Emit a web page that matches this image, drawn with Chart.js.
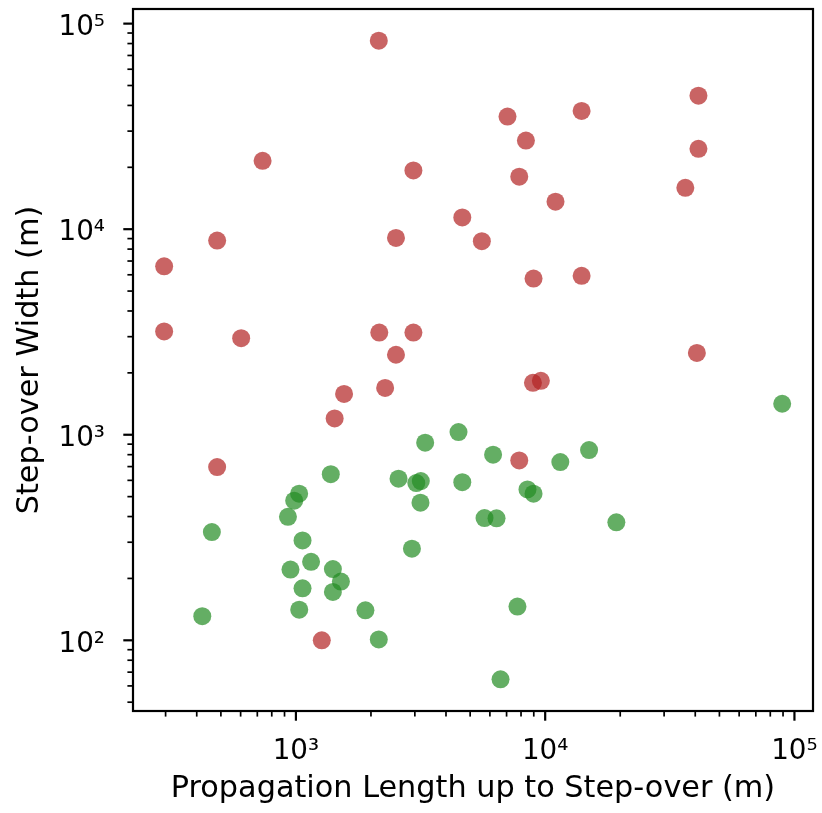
<!DOCTYPE html>
<html>
<head>
<meta charset="utf-8">
<script src="https://cdn.jsdelivr.net/npm/chart.js@4/dist/chart.umd.min.js"></script>
<style>
  html, body { margin: 0; padding: 0; background: #fff; }
  #wrap { position: absolute; left: 0; top: 0; width: 822px; height: 813px; }
</style>
</head>
<body>
<div id="wrap"><canvas id="scatterChart"></canvas></div>
<script>
// Puntos rojos (Propagation Length, Step-over Width)
const redX = [2150, 735, 2960, 4650, 483, 2520, 5570, 296, 296, 603, 2160, 2960, 2520,
    41200, 14000, 7060, 8370, 41200, 7870, 36500, 11000, 8980, 14000, 40600,
    2280, 1560, 1430, 483, 1270, 8930, 9610, 7870];
const redY = [82600, 21500, 19300, 11400, 8800, 9070, 8740, 6600, 3180, 2950, 3140, 3140, 2450,
    44600, 37600, 35300, 27000, 24600, 18000, 15900, 13600, 5750, 5930, 2500,
    1690, 1580, 1200, 696, 100, 1790, 1830, 750];

// Puntos verdes
const greenX = [4490, 3300, 1380, 2580, 3040, 3170, 4650, 1030, 984, 3160, 929, 1063, 460,
    1150, 951, 1407, 1515, 1063, 1407, 2920, 1031, 1900, 421, 2150, 89300, 6180,
    11500, 15000, 8490, 8980, 5710, 6380, 19300, 7740, 6620];
const greenY = [1030, 915, 643, 611, 582, 595, 588, 517, 478, 467, 399, 306, 336,
    241, 221, 222, 193, 179, 172, 279, 141, 140, 131, 101, 1415, 800,
    736, 842, 542, 517, 393, 392, 375, 146, 64.6];

// Rangos de los ejes y etiquetas
const xRange = [222, 118700];
const yRange = [45.3, 117800];
const xTitle = 'Propagation Length up to Step-over (m)';
const yTitle = 'Step-over Width (m)';

const SUP = '⁰¹²³⁴⁵⁶⁷⁸⁹';
const FONT = { family: 'DejaVu Sans', size: 27.8 };
const TITLE_FONT = { family: 'DejaVu Sans', size: 30.3 };

function isDecade(v) {
    const l = Math.log10(v);
    return Math.abs(l - Math.round(l)) < 1e-9;
}

function decadeLabel(v) {
    if (!isDecade(v)) return '';
    const e = String(Math.round(Math.log10(v)));
    return '10' + e.split('').map(d => SUP[+d]).join('');
}

function logTicks(scale) {
    const out = [];
    const e0 = Math.floor(Math.log10(scale.min));
    const e1 = Math.ceil(Math.log10(scale.max));
    for (let e = e0; e <= e1; e++) {
        for (let k = 1; k < 10; k++) {
            const v = k * Math.pow(10, e);
            if (v >= scale.min && v <= scale.max) out.push({ value: v, major: k === 1 });
        }
    }
    scale.ticks = out;
}

function toPoints(xs, ys) {
    return xs.map((x, i) => ({ x: x, y: ys[i] }));
}

// marco negro y marcas de los ejes
const frameAndTicks = {
    id: 'frameAndTicks',
    afterDraw(chart) {
        const ctx = chart.ctx;
        const a = chart.chartArea;
        const sx = chart.scales.x;
        const sy = chart.scales.y;
        ctx.save();
        ctx.strokeStyle = '#000';
        sx.ticks.forEach(t => {
            const major = isDecade(t.value);
            const px = sx.getPixelForValue(t.value);
            ctx.lineWidth = major ? 2.2 : 1.7;
            ctx.beginPath();
            ctx.moveTo(px, a.bottom);
            ctx.lineTo(px, a.bottom + (major ? 9.7 : 5.6));
            ctx.stroke();
        });
        sy.ticks.forEach(t => {
            const major = isDecade(t.value);
            const py = sy.getPixelForValue(t.value);
            ctx.lineWidth = major ? 2.2 : 1.7;
            ctx.beginPath();
            ctx.moveTo(a.left, py);
            ctx.lineTo(a.left - (major ? 9.7 : 5.6), py);
            ctx.stroke();
        });
        ctx.lineWidth = 2.2;
        ctx.strokeRect(a.left, a.top, a.right - a.left, a.bottom - a.top);
        ctx.restore();
    }
};

document.addEventListener('DOMContentLoaded', function () {
    const ctx = document.getElementById('scatterChart').getContext('2d');

    const myChart = new Chart(ctx, {
        type: 'scatter',
        data: {
            datasets: [{
                label: 'red',
                data: toPoints(redX, redY),
                backgroundColor: 'rgba(178, 34, 34, 0.7)',
                borderWidth: 0,
                pointRadius: 9,
                pointHoverRadius: 9
            }, {
                label: 'green',
                data: toPoints(greenX, greenY),
                backgroundColor: 'rgba(34, 139, 34, 0.7)',
                borderWidth: 0,
                pointRadius: 9,
                pointHoverRadius: 9
            }]
        },
        options: {
            responsive: true,
            maintainAspectRatio: false,
            animation: false,
            layout: { padding: { top: 8, right: 9, left: 0, bottom: 0 } },
            plugins: {
                legend: { display: false },
                tooltip: { enabled: false }
            },
            scales: {
                x: {
                    type: 'logarithmic',
                    min: xRange[0],
                    max: xRange[1],
                    bounds: 'data',
                    grid: { display: false },
                    border: { display: false },
                    afterBuildTicks: logTicks,
                    afterFit: function (scale) {
                        scale.height = 102;
                        scale.paddingLeft = 0;
                        scale.paddingRight = 0;
                    },
                    ticks: {
                        autoSkip: false,
                        maxRotation: 0,
                        padding: 16,
                        color: '#000',
                        font: FONT,
                        callback: decadeLabel
                    },
                    title: {
                        display: true,
                        text: xTitle,
                        color: '#000',
                        font: TITLE_FONT,
                        padding: { top: 0, bottom: 6 }
                    }
                },
                y: {
                    type: 'logarithmic',
                    min: yRange[0],
                    max: yRange[1],
                    bounds: 'data',
                    grid: { display: false },
                    border: { display: false },
                    afterBuildTicks: logTicks,
                    afterFit: function (scale) {
                        scale.width = 133;
                        scale.paddingTop = 0;
                        scale.paddingBottom = 0;
                    },
                    ticks: {
                        autoSkip: false,
                        padding: 20,
                        labelOffset: 4,
                        color: '#000',
                        font: FONT,
                        callback: decadeLabel
                    },
                    title: {
                        display: true,
                        text: yTitle,
                        color: '#000',
                        font: TITLE_FONT,
                        padding: { top: 12, bottom: 0 }
                    }
                }
            }
        },
        plugins: [frameAndTicks]
    });
});
</script>
</body>
</html>
